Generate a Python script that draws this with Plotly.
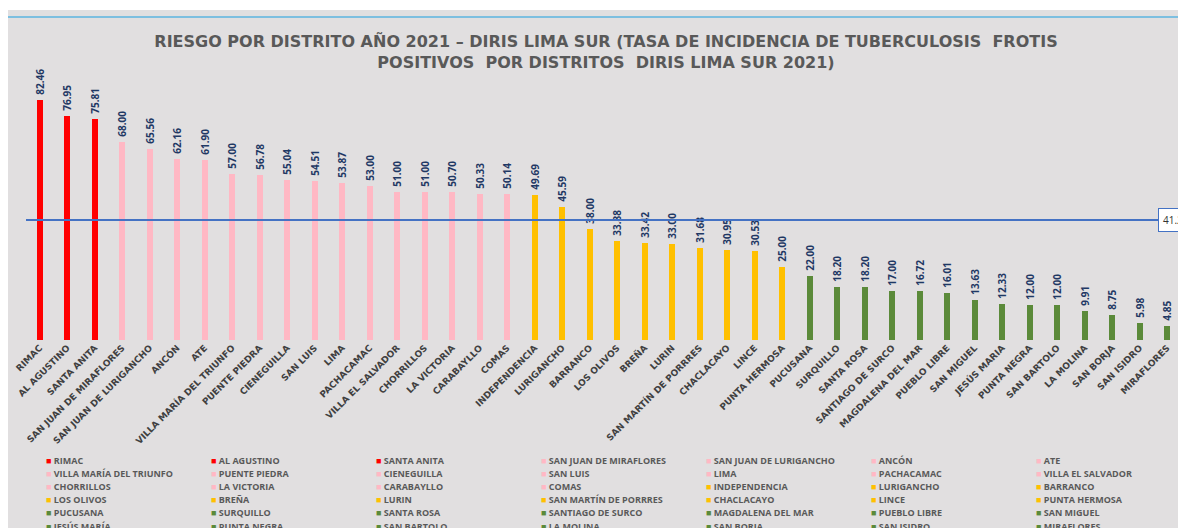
import plotly.graph_objects as go

districts = ["RIMAC", "AL AGUSTINO", "SANTA ANITA", "SAN JUAN DE MIRAFLORES", "SAN JUAN DE LURIGANCHO",
             "ANCÓN", "ATE", "VILLA MARÍA DEL TRIUNFO", "PUENTE PIEDRA", "CIENEGUILLA", "SAN LUIS",
             "LIMA", "PACHACAMAC", "VILLA EL SALVADOR", "CHORRILLOS", "LA VICTORIA", "CARABAYLLO",
             "COMAS", "INDEPENDENCIA", "LURIGANCHO", "BARRANCO", "LOS OLIVOS", "BREÑA", "LURIN",
             "SAN MARTÍN DE PORRRES", "CHACLACAYO", "LINCE", "PUNTA HERMOSA", "PUCUSANA", "SURQUILLO",
             "SANTA ROSA", "SANTIAGO DE SURCO", "MAGDALENA DEL MAR", "PUEBLO LIBRE", "SAN MIGUEL",
             "JESÚS MARÍA", "PUNTA NEGRA", "SAN BARTOLO", "LA MOLINA", "SAN BORJA", "SAN ISIDRO",
             "MIRAFLORES"]
tick_labels = ["RIMAC", "AL AGUSTINO", "SANTA ANITA", "SAN JUAN DE MIRAFLORES", "SAN JUAN DE LURIGANCHO",
               "ANCÓN", "ATE", "VILLA MARÍA DEL TRIUNFO", "PUENTE PIEDRA", "CIENEGUILLA", "SAN LUIS",
               "LIMA", "PACHACAMAC", "VILLA EL SALVADOR", "CHORRILLOS", "LA VICTORIA", "CARABAYLLO",
               "COMAS", "INDEPENDENCIA", "LURIGANCHO", "BARRANCO", "LOS OLIVOS", "BREÑA", "LURIN",
               "SAN MARTÍN DE PORRRES", "CHACLACAYO", "LINCE", "PUNTA HERMOSA", "PUCUSANA", "SURQUILLO",
               "SANTA ROSA", "SANTIAGO DE SURCO", "MAGDALENA DEL MAR", "PUEBLO LIBRE", "SAN MIGUEL",
               "JESÚS MARIA", "PUNTA NEGRA", "SAN BARTOLO", "LA MOLINA", "SAN BORJA", "SAN ISIDRO",
               "MIRAFLORES"]
rates = [82.46, 76.95, 75.81, 68.00, 65.56, 62.16, 61.90, 57.00, 56.78, 55.04, 54.51, 53.87, 53.00,
         51.00, 51.00, 50.70, 50.33, 50.14, 49.69, 45.59, 38.00, 33.88, 33.42, 33.00, 31.68, 30.95,
         30.53, 25.00, 22.00, 18.20, 18.20, 17.00, 16.72, 16.01, 13.63, 12.33, 12.00, 12.00, 9.91,
         8.75, 5.98, 4.85]
risk_level = ["alto"] * 3 + ["medio_alto"] * 15 + ["medio"] * 10 + ["bajo"] * 14
average_rate = 41.2

level_colors = {"alto": "#ff0000", "medio_alto": "#ffb8c4", "medio": "#ffc000", "bajo": "#5b8a3a"}

# geometry: page pixels (the page body has an 8px margin, compensated here)
OFF = 8
PAGE_W, PAGE_H = 1186, 528
W, H = PAGE_W - 2 * OFF, PAGE_H - OFF
ML = 26 - OFF
MT = 70 - OFF
PLOT_BOTTOM = 340 - OFF
PW = W - ML
PH = PLOT_BOTTOM - MT
px_per_unit = 2.91
step = 27.5
x_hi = PW / step - 0.5
y_hi = PH / px_per_unit

def px_to_paper_x(page_px):
    return (page_px - OFF - ML) / PW

def px_to_paper_y(page_py):
    return (PLOT_BOTTOM - (page_py - OFF)) / PH

fig = go.Figure()
x_idx = list(range(len(districts)))
for i, (name, val, lvl) in enumerate(zip(districts, rates, risk_level)):
    fig.add_trace(go.Bar(
        x=[i], y=[val], name=name, width=0.22,
        marker=dict(color=level_colors[lvl], line=dict(width=0)),
        text=["\u00a0\u00a0" + f"{val:.2f}"], textposition="outside", textangle=-90, constraintext="none",
        textfont=dict(family="Open Sans", size=10, color="#1f3864", weight="bold"),
        cliponaxis=False, showlegend=False,
    ))

fig.add_trace(go.Scatter(
    x=[-0.5, x_hi], y=[average_rate, average_rate], mode="lines",
    line=dict(color="#4472c4", width=2), showlegend=False, hoverinfo="skip",
))

shapes = [
    dict(type="rect", xref="paper", yref="paper", layer="below",
         x0=px_to_paper_x(0), x1=px_to_paper_x(PAGE_W + 10), y0=px_to_paper_y(PAGE_H + 10), y1=px_to_paper_y(10),
         fillcolor="#e1dfe0", line=dict(width=0)),
    dict(type="line", xref="paper", yref="paper", layer="below",
         x0=px_to_paper_x(0), x1=px_to_paper_x(PAGE_W + 10), y0=px_to_paper_y(17), y1=px_to_paper_y(17),
         line=dict(color="#5bb4e0", width=1.5)),
]

annotations = [
    dict(x=(1158 - OFF - ML) / step - 0.5, y=average_rate, xref="x", yref="y", text="41.2",
         xanchor="left", yanchor="middle", showarrow=False, bgcolor="white",
         bordercolor="#4472c4", borderwidth=1, borderpad=4,
         font=dict(family="Open Sans", size=10, color="#333333")),
]

# legend grid (7 columns)
n_cols = 7
col_px = [44 + 165 * c for c in range(n_cols)]
row_px = [460 + 13.2 * r for r in range(7)]
for i, (name, lvl) in enumerate(zip(districts, risk_level)):
    r, c = divmod(i, n_cols)
    annotations.append(dict(
        x=px_to_paper_x(col_px[c]), y=px_to_paper_y(row_px[r]), xref="paper", yref="paper",
        xanchor="left", yanchor="middle", showarrow=False,
        text=f"<span style='color:{level_colors[lvl]}'>■</span> {name}",
        font=dict(family="Open Sans", size=9, color="#595959", weight="bold"),
    ))

fig.update_layout(
    width=W, height=H,
    margin=dict(l=ML, r=0, t=MT, b=H - PLOT_BOTTOM, pad=0),
    paper_bgcolor="white", plot_bgcolor="rgba(0,0,0,0)",
    barmode="overlay", bargap=0,
    title=dict(
        text="RIESGO POR DISTRITO AÑO 2021 – DIRIS LIMA SUR (TASA DE INCIDENCIA DE TUBERCULOSIS  FROTIS<br>POSITIVOS  POR DISTRITOS  DIRIS LIMA SUR 2021)",
        x=px_to_paper_x(606), xref="paper", xanchor="center",
        y=1 - (47 - OFF) / H, yref="container", yanchor="middle",
        font=dict(family="DejaVu Sans", size=16, color="#595959", weight="bold"),
    ),
    xaxis=dict(
        range=[-0.5, x_hi], tickmode="array", tickvals=x_idx, ticktext=tick_labels,
        tickangle=-45, ticklen=0, showgrid=False, zeroline=False, showline=False,
        tickfont=dict(family="DejaVu Sans", size=9, color="#404040", weight="bold"),
    ),
    yaxis=dict(range=[0, y_hi], visible=False, showgrid=False, zeroline=False),
    shapes=shapes, annotations=annotations, showlegend=False,
)

fig.write_html("out.html")
